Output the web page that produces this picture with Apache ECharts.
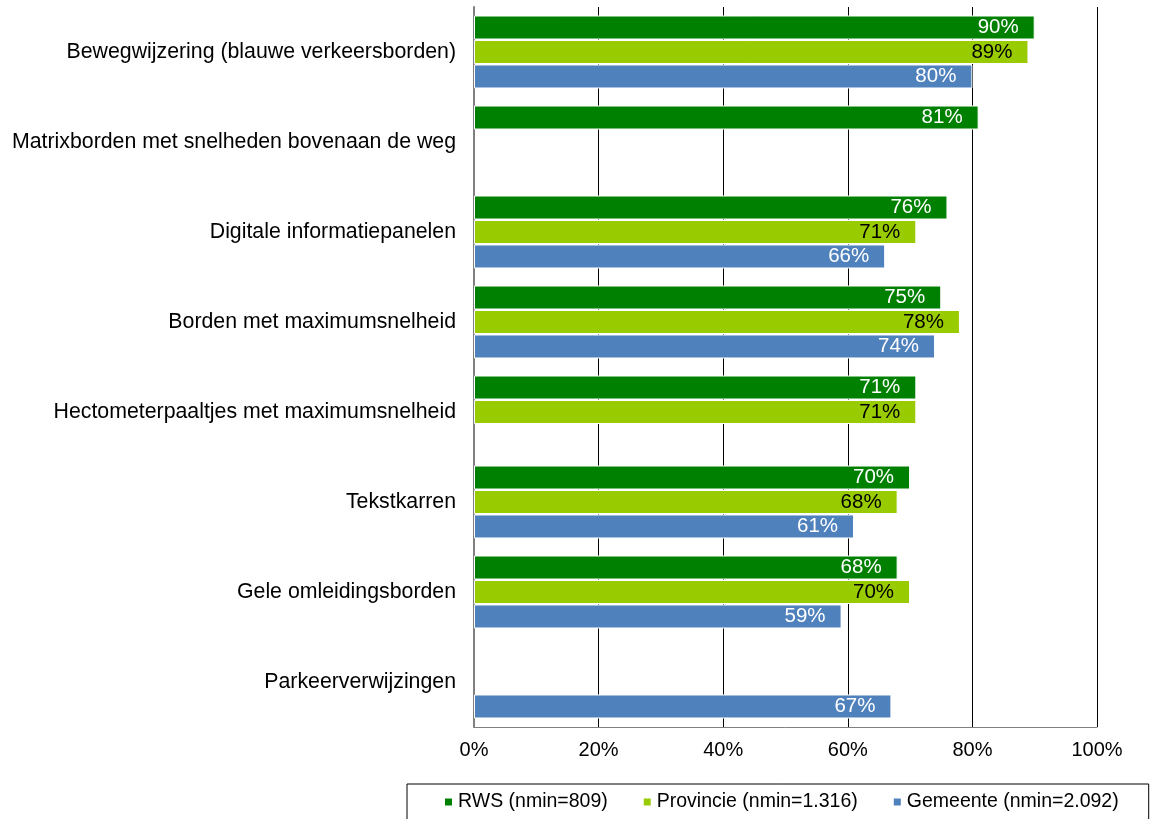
<!DOCTYPE html>
<html>
<head>
<meta charset="utf-8">
<script src="https://cdn.jsdelivr.net/npm/echarts@6/dist/echarts.min.js"></script>
<style>html,body{margin:0;padding:0;background:#fff;}#chart{width:1157px;height:819px;}</style>
</head>
<body>
<div id="chart"></div>
<script>
const categories = [
  'Bewegwijzering (blauwe verkeersborden)',
  'Matrixborden met snelheden bovenaan de weg',
  'Digitale informatiepanelen',
  'Borden met maximumsnelheid',
  'Hectometerpaaltjes met maximumsnelheid',
  'Tekstkarren',
  'Gele omleidingsborden',
  'Parkeerverwijzingen'
];
const seriesNames = ['RWS (nmin=809)', 'Provincie (nmin=1.316)', 'Gemeente (nmin=2.092)'];
const rws = [90, 81, 76, 75, 71, 70, 68, null];
const provincie = [89, null, 71, 78, 71, 68, 70, null];
const gemeente = [80, null, 66, 74, null, 61, 59, 67];
const xTicks = [0, 20, 40, 60, 80, 100];

const FONT = '"Liberation Sans", Arial, sans-serif';
const colors = ['#008000', '#99CC00', '#4F81BD'];
const labelColors = ['#ffffff', '#000000', '#ffffff'];
const dataSets = [rws, provincie, gemeente];

const chart = echarts.init(document.getElementById('chart'), null, {renderer: 'canvas'});
chart.setOption({
  animation: false,
  textStyle: {fontFamily: FONT},
  grid: {left: 474, right: 60, top: 7, bottom: 92, containLabel: false},
  legend: {
    left: 407, top: 784,
    padding: [8, 30, 14, 36],
    itemWidth: 9, itemHeight: 9, itemGap: 34,
    icon: 'rect',
    borderColor: '#000', borderWidth: 1,
    textStyle: {fontSize: 19.5, color: '#000', fontFamily: FONT},
    data: seriesNames
  },
  xAxis: {
    type: 'value', min: xTicks[0], max: xTicks[xTicks.length - 1], interval: 20,
    axisLine: {show: true, lineStyle: {color: '#808080', width: 1}},
    axisTick: {show: false},
    splitLine: {show: true, lineStyle: {color: '#000', width: 1}},
    axisLabel: {formatter: '{value}%', fontSize: 20, color: '#000', margin: 13, fontFamily: FONT}
  },
  yAxis: {
    type: 'category', inverse: true, data: categories,
    axisLine: {show: true, lineStyle: {color: '#808080', width: 2}},
    axisTick: {show: false},
    axisLabel: {fontSize: 21.3, color: '#000', margin: 18, fontFamily: FONT}
  },
  series: dataSets.map((d, i) => ({
    name: seriesNames[i],
    type: 'bar',
    data: d,
    barWidth: 24,
    barGap: '2%',
    itemStyle: {color: colors[i], borderColor: '#ffffff', borderWidth: 1},
    label: {
      show: true, position: 'insideRight', distance: 16,
      formatter: '{c}%', fontSize: 20.5, color: labelColors[i], fontFamily: FONT
    }
  }))
});
</script>
</body>
</html>
